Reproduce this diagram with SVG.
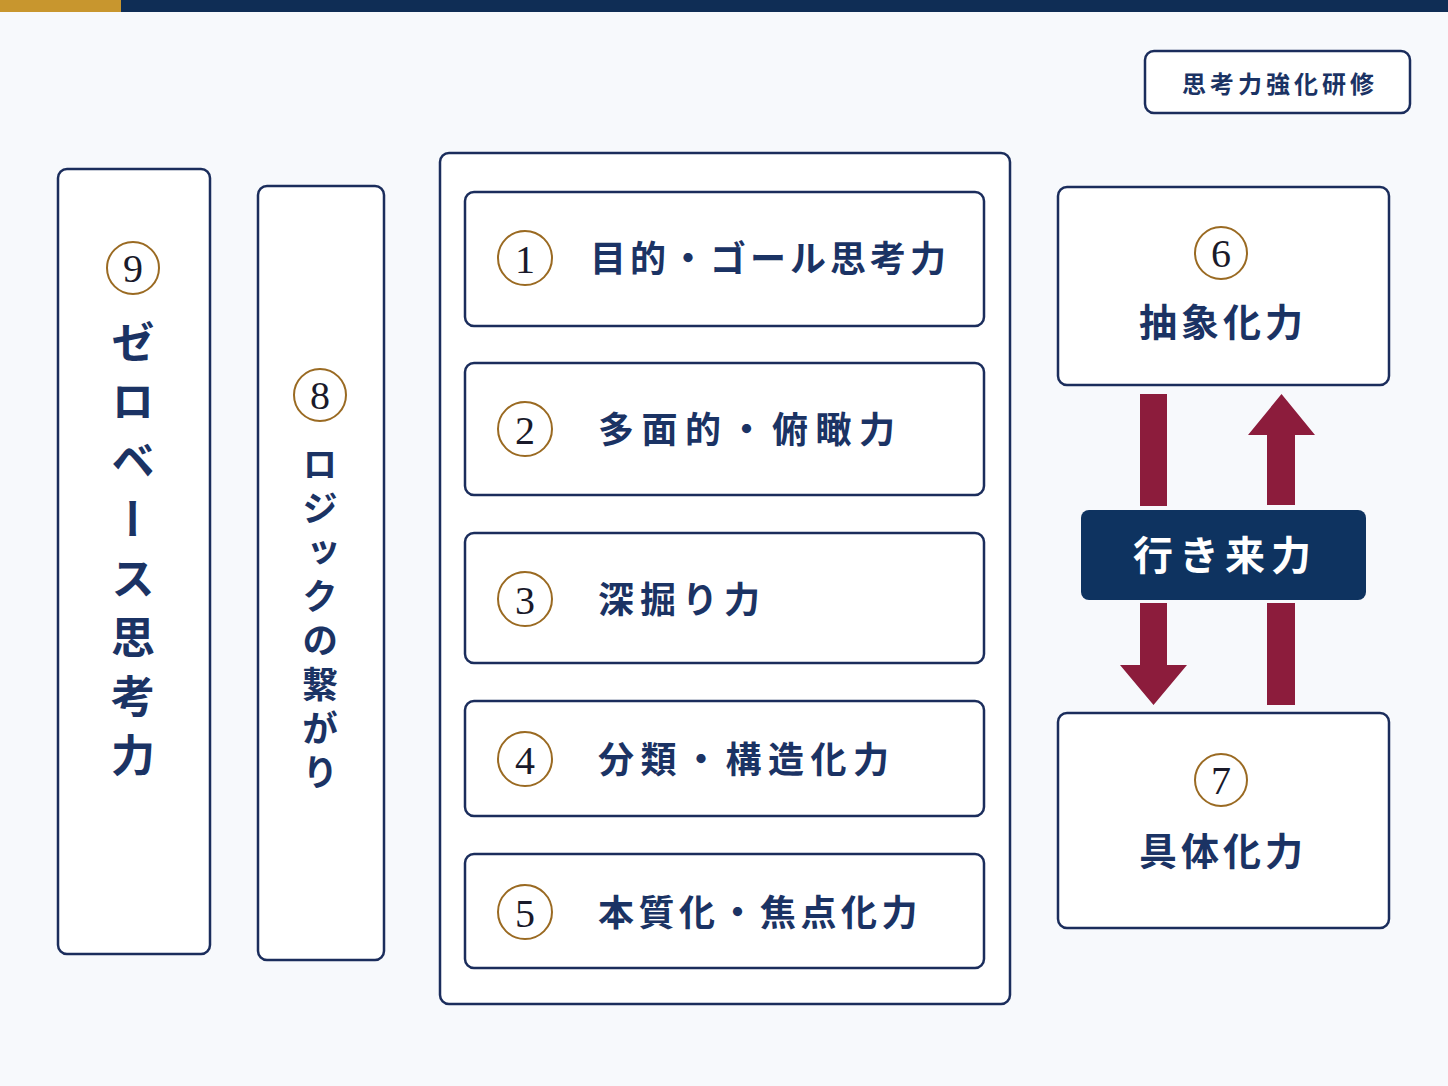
<svg xmlns="http://www.w3.org/2000/svg" width="1448" height="1086" viewBox="0 0 1448 1086">
<defs>
<style>
.box{fill:#ffffff;stroke:#1b2d5c;stroke-width:2.5}
.num{fill:#ffffff;stroke:#9a6a22;stroke-width:2}
.numt{font-family:"Liberation Serif",serif;font-size:40px;fill:#1a1a2a;text-anchor:middle}
.jp{font-family:"Noto Sans CJK JP",sans-serif;font-weight:700;fill:#1b3364}
.arr{fill:#8c1c3c}
</style>
</defs>
<rect x="0" y="0" width="1448" height="1086" fill="#f7f9fc"/>
<rect x="0" y="0" width="121" height="12" fill="#c8962e"/>
<rect x="121" y="0" width="1327" height="12" fill="#0f2d55"/>

<g id="tag">
<rect class="box" x="1145" y="51" width="265" height="62" rx="9"/>
<text class="jp" x="1280" y="93" font-size="24" letter-spacing="4" text-anchor="middle" font-weight="500">思考力強化研修</text>
</g>

<g id="node9">
<rect class="box" x="58" y="169" width="152" height="785" rx="9"/>
<circle class="num" cx="133" cy="268" r="26"/>
<text class="numt" x="133" y="282">9</text>
<text class="jp" x="133" y="320" font-size="44" letter-spacing="15" style="writing-mode:vertical-rl">ゼロベース思考力</text>
</g>

<g id="node8">
<rect class="box" x="258" y="186" width="126" height="774" rx="9"/>
<circle class="num" cx="320" cy="395" r="26"/>
<text class="numt" x="320" y="409">8</text>
<text class="jp" x="320" y="446" font-size="36" letter-spacing="8" font-weight="500" style="writing-mode:vertical-rl">ロジックの繋がり</text>
</g>

<g id="group">
<rect class="box" x="440" y="153" width="570" height="851" rx="9"/>
</g>

<g id="node1">
<rect class="box" x="465" y="192" width="519" height="134" rx="9"/>
<circle class="num" cx="525" cy="258" r="27"/>
<text class="numt" x="525" y="273">1</text>
<text class="jp" x="590" y="272" font-size="36" letter-spacing="4">目的・ゴール思考力</text>
</g>

<g id="node2">
<rect class="box" x="465" y="363" width="519" height="132" rx="9"/>
<circle class="num" cx="525" cy="429" r="27"/>
<text class="numt" x="525" y="444">2</text>
<text class="jp" x="598" y="443" font-size="36" letter-spacing="7.5">多面的・俯瞰力</text>
</g>

<g id="node3">
<rect class="box" x="465" y="533" width="519" height="130" rx="9"/>
<circle class="num" cx="525" cy="599" r="27"/>
<text class="numt" x="525" y="614">3</text>
<text class="jp" x="598" y="613" font-size="36" letter-spacing="6">深掘り力</text>
</g>

<g id="node4">
<rect class="box" x="465" y="701" width="519" height="115" rx="9"/>
<circle class="num" cx="525" cy="759" r="27"/>
<text class="numt" x="525" y="774">4</text>
<text class="jp" x="598" y="773" font-size="36" letter-spacing="6.5">分類・構造化力</text>
</g>

<g id="node5">
<rect class="box" x="465" y="854" width="519" height="114" rx="9"/>
<circle class="num" cx="525" cy="912" r="27"/>
<text class="numt" x="525" y="927">5</text>
<text class="jp" x="598" y="926" font-size="36" letter-spacing="4.5">本質化・焦点化力</text>
</g>

<g id="node6">
<rect class="box" x="1058" y="187" width="331" height="198" rx="9"/>
<circle class="num" cx="1221" cy="253" r="26"/>
<text class="numt" x="1221" y="267">6</text>
<text class="jp" x="1223" y="336" font-size="38" letter-spacing="4" text-anchor="middle">抽象化力</text>
</g>

<g id="node7">
<rect class="box" x="1058" y="713" width="331" height="215" rx="9"/>
<circle class="num" cx="1221" cy="780" r="26"/>
<text class="numt" x="1221" y="794">7</text>
<text class="jp" x="1223" y="865" font-size="38" letter-spacing="4" text-anchor="middle" font-weight="500">具体化力</text>
</g>

<g id="connectors">
<rect class="arr" x="1140" y="394" width="27" height="112"/>
<polygon class="arr" points="1140,603 1167,603 1167,665 1187,665 1153.5,705 1120,665 1140,665"/>
<polygon class="arr" points="1281.5,394 1315,435 1295,435 1295,505 1267,505 1267,435 1248,435"/>
<rect class="arr" x="1267" y="603" width="28" height="102"/>
</g>

<g id="label">
<rect x="1081" y="510" width="285" height="90" rx="8" fill="#0e3360"/>
<text class="jp" x="1225" y="570" font-size="40" letter-spacing="6" text-anchor="middle" font-weight="500" style="fill:#ffffff">行き来力</text>
</g>
</svg>
